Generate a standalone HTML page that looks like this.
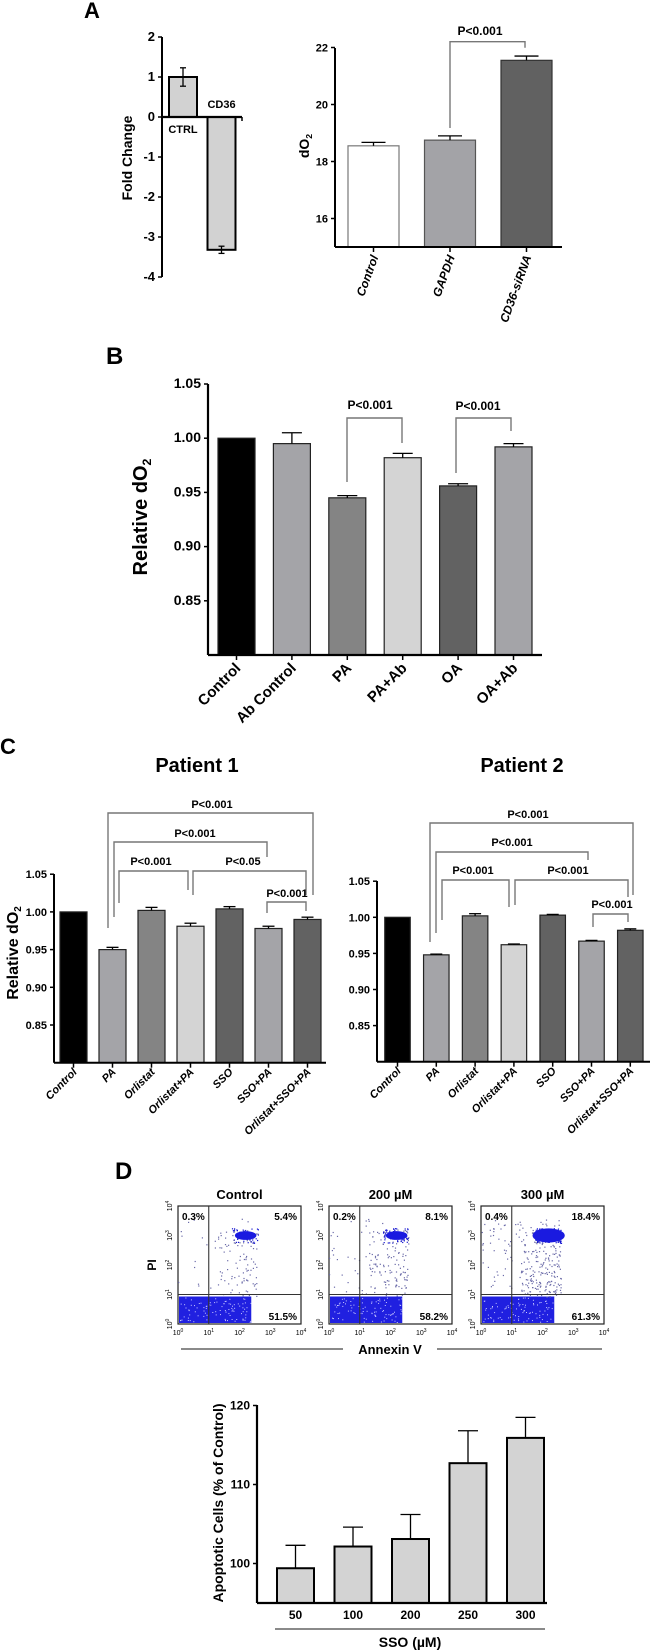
<!DOCTYPE html>
<html><head><meta charset="utf-8"><style>
html,body{margin:0;padding:0;background:#fff;}
svg{display:block;font-family:"Liberation Sans",Arial,sans-serif;font-weight:bold;}
</style></head><body>
<svg id="fig" width="650" height="1650" viewBox="0 0 650 1650" xmlns="http://www.w3.org/2000/svg">
<text x="84" y="18" font-size="22">A</text>
<text x="106" y="364" font-size="24">B</text>
<text x="0" y="754" font-size="22">C</text>
<text x="115" y="1179" font-size="24">D</text>
<text x="197" y="772" font-size="20" text-anchor="middle">Patient 1</text>
<text x="522" y="772" font-size="20" text-anchor="middle">Patient 2</text>
</svg>
<script>
// ---- data arrays ----
const aLeftCats = ["CTRL","CD36"];
const aLeftVals = [1.0,-3.32];
const aLeftErr = [0.23,0.09];
const aLeftTicks = [2,1,0,-1,-2,-3,-4];

const aRightCats = ["Control","GAPDH","CD36-siRNA"];
const aRightVals = [18.55,18.75,21.55];
const aRightErr = [0.12,0.15,0.15];
const aRightTicks = [16,18,20,22];

const bCats = ["Control","Ab Control","PA","PA+Ab","OA","OA+Ab"];
const bVals = [1.0,0.995,0.945,0.982,0.956,0.992];
const bErr = [0,0.01,0.002,0.004,0.002,0.003];
const bTicks = ["0.85","0.90","0.95","1.00","1.05"];

const cCats = ["Control","PA","Orlistat","Orlistat+PA","SSO","SSO+PA","Orlistat+SSO+PA"];
const c1Vals = [1.0,0.950,1.002,0.981,1.004,0.978,0.990];
const c1Err = [0,0.003,0.004,0.004,0.003,0.003,0.003];
const c2Vals = [1.0,0.948,1.002,0.962,1.003,0.967,0.982];
const c2Err = [0,0.001,0.003,0.001,0.001,0.001,0.002];
const cTicks = ["0.85","0.90","0.95","1.00","1.05"];

const dCats = ["50","100","200","250","300"];
const dVals = [99.4,102.15,103.1,112.7,115.9];
const dErr = [2.9,2.45,3.1,4.1,2.6];
const dTicks = [100,110,120];

const flowTitles = ["Control","200 µM","300 µM"];
const flowUL = ["0.3%","0.2%","0.4%"];
const flowUR = ["5.4%","8.1%","18.4%"];
const flowLR = ["51.5%","58.2%","61.3%"];

// ---- helpers ----
const NS="http://www.w3.org/2000/svg";
const svg=document.getElementById('fig');
function mk(tag,attrs,txt){const e=document.createElementNS(NS,tag);for(const k in attrs)e.setAttribute(k,attrs[k]);if(txt!==undefined)e.textContent=txt;svg.appendChild(e);return e;}
function line(x1,y1,x2,y2,w,c){return mk('line',{x1:x1,y1:y1,x2:x2,y2:y2,stroke:c||'#000','stroke-width':w||1.5});}

function barChart(o){
  const ys=o.y;
  const ax=line(o.axX,o.top,o.axX,o.bottom,o.aw||2);
  
  
  o.ticks.forEach(t=>{
    const v=parseFloat(t);
    const tk=line(o.axX-4,ys(v),o.axX,ys(v),1.5);
    
    
    const tl=mk('text',{x:o.axX-7,y:ys(v)+4,'font-size':o.tfs||11,'text-anchor':'end'},String(t));
    
    
  });
  o.vals.forEach((v,i)=>{
    const cx=o.x0+i*o.step;
    const y0=ys(o.base),y1=ys(v);
    const r=mk('rect',{x:cx-o.bw/2,y:Math.min(y0,y1),width:o.bw,height:Math.abs(y1-y0),fill:o.fills[i],stroke:o.strokes?o.strokes[i]:'#222','stroke-width':o.sw||1.2});
    
    
    if(o.err[i]>0){
      const dir=v>=o.base?1:-1;
      const ye=ys(v+dir*o.err[i]);
      const e1=line(cx,y1,cx,ye,1.3);
      
      
      const e2=line(cx-o.cap,ye,cx+o.cap,ye,1.3);
      
      
      if(o.both){const yb=ys(v-dir*o.err[i]);line(cx,y1,cx,yb,1.3);line(cx-o.cap,yb,cx+o.cap,yb,1.3);}
    }
    if(o.xtick){
      const xt=line(cx,o.bottom,cx,o.bottom+5,1.5);
      
      
    }
    if(o.cats){
      const lx=cx+(o.lxo||3),ly=o.bottom+(o.lyo||12);
      const t=mk('text',{x:lx,y:ly,'font-size':o.lfs||11,'text-anchor':'end','font-style':o.italic?'italic':'normal',transform:'rotate('+(o.rot||-45)+' '+lx+' '+ly+')'},o.cats[i]);
      
      
    }
  });
  if(o.axRight){
    const bx=line(o.axX,o.bottom,o.axRight,o.bottom,o.aw||2);
    
    
  }
}
function bracket(x1,x2,top,yl,yr,label,ty,tx,fs){
  const p=mk('path',{d:'M'+x1+' '+yl+' L'+x1+' '+top+' L'+x2+' '+top+' L'+x2+' '+yr,fill:'none',stroke:'#777','stroke-width':1.4});
  
  
  const t=mk('text',{x:tx!==undefined?tx:(x1+x2)/2,y:ty,'font-size':fs||11,'text-anchor':'middle'},label);
  
  
}
function ylabel(x,y,txt,fs,sub){
  const t=mk('text',{x:x,y:y,'font-size':fs,'text-anchor':'middle',transform:'rotate(-90 '+x+' '+y+')'});
  
  
  t.textContent=txt;
  if(sub){const s=document.createElementNS(NS,'tspan');s.setAttribute('font-size',fs*0.62);s.setAttribute('dy',fs*0.2);s.textContent=sub;t.appendChild(s);}
}

// ---- Panel A left ----
const yAL=v=>117-v*40;
barChart({name:'fold-change',y:yAL,axX:162,top:37,bottom:277,ticks:aLeftTicks,vals:aLeftVals,err:aLeftErr,base:0,x0:183,step:38.5,bw:28,fills:['#d2d2d2','#d2d2d2'],strokes:['#000','#000'],sw:2,cap:3,both:true,tfs:13});
const zl=line(162,117,242,117,2.2);


line(242,117,242,121,1.5);
aLeftCats.forEach((c,i)=>{
  const t=mk('text',{x:183+i*38.5,y:i===0?133:108,'font-size':11,'text-anchor':'middle'},c);
  
  
});
ylabel(132,158,'Fold Change',14);

// ---- Panel A right ----
const yAR=v=>247-(v-15)*28.5;
barChart({name:'do2-sirna',y:yAR,axX:335,top:48,bottom:247,ticks:aRightTicks,vals:aRightVals,err:aRightErr,base:15,x0:373.5,step:76.5,bw:51,fills:['#ffffff','#a3a3a7','#616161'],strokes:['#777','#555','#333'],cap:12,cats:aRightCats,rot:-70,lxo:5,lyo:10,italic:true,lfs:12,xtick:true,axRight:562,tfs:11});
bracket(450,525,41.7,128,47.7,'P<0.001',35,480,12);
ylabel(309,146,'dO',14,'2');

// ---- Panel B ----
const yB=v=>655-(v-0.80)/0.05*54.2;
barChart({name:'panel-b',y:yB,axX:208,top:384,bottom:655,ticks:bTicks,vals:bVals,err:bErr,base:0.80,x0:236.5,step:55.4,bw:37,fills:['#000','#a4a4a8','#848484','#d4d4d4','#626262','#a4a4a8'],cap:10,cats:bCats,rot:-45,lxo:5,lyo:14,lfs:15,xtick:true,axRight:542,tfs:14,aw:2.2});
bracket(347,402,418,482,443,'P<0.001',409,370,12);
bracket(456,511,418,473,431,'P<0.001',410,478,12);
ylabel(147,517,'Relative dO',20,'2');

// ---- Panel C ----
const yC1=v=>1062.7-(v-0.8)/0.05*37.7;
barChart({name:'patient-1',y:yC1,axX:54,top:874,bottom:1062.7,ticks:cTicks,vals:c1Vals,err:c1Err,base:0.8,x0:73.5,step:39,bw:27,fills:['#000','#a4a4a8','#848484','#d4d4d4','#626262','#a4a4a8','#626262'],cap:6,cats:cCats,rot:-45,lxo:4,lyo:10,italic:true,lfs:11,xtick:true,axRight:326,tfs:11});
bracket(108,313,813,928,895,'P<0.001',808,212);
bracket(114,267,842,917,857,'P<0.001',837,195);
bracket(119,188,871,903,890,'P<0.001',865,151);
bracket(193,306,871,895,895,'P<0.05',865,243);
bracket(267,306,902,913,911,'P<0.001',897,287);
ylabel(18,953,'Relative dO',16,'2');

const yC2=v=>1061.7-(v-0.8)/0.05*36.1;
barChart({name:'patient-2',y:yC2,axX:377,top:881,bottom:1061.7,ticks:cTicks,vals:c2Vals,err:c2Err,base:0.8,x0:397.5,step:38.8,bw:25.5,fills:['#000','#a4a4a8','#848484','#d4d4d4','#626262','#a4a4a8','#626262'],cap:6,cats:cCats,rot:-45,lxo:4,lyo:10,italic:true,lfs:11,xtick:true,axRight:650,tfs:11});
bracket(430,633,823,942,895,'P<0.001',818,528);
bracket(436,588,852,933,860,'P<0.001',846,512);
bracket(442,509,880,920,907,'P<0.001',874,473);
bracket(515,628,880,905,897,'P<0.001',874,568);
bracket(593,628,914,927,922,'P<0.001',908,612);

// ---- Panel D flow plots ----
let seed=7;function rnd(){seed=(seed*16807)%2147483647;return (seed-1)/2147483646;}
const flowLeft=[178,329,481];
const flowDensity=[1,1.4,2.4];
flowLeft.forEach((L,k)=>{
  const T=1206,B=1324,W=123,dec=W/4,hdec=(B-T)/4;
  const t=mk('text',{x:L+W/2,y:1199,'font-size':13,'text-anchor':'middle'},flowTitles[k]);
  
  
  const box=mk('rect',{x:L,y:T,width:W,height:B-T,fill:'#fff',stroke:'#222','stroke-width':1.2});
  
  
  const dens=mk('rect',{x:L+1,y:B-hdec+2,width:dec*2.35,height:hdec-3,fill:'#2020e0'});
  
  
  const g=document.createElementNS(NS,'g');svg.appendChild(g);
  
  
  // white speckles in dense region
  for(let i=0;i<90;i++){
    const c=document.createElementNS(NS,'rect');
    c.setAttribute('x',(L+2+rnd()*dec*2.3).toFixed(1));c.setAttribute('y',(B-hdec+3+rnd()*(hdec-5)).toFixed(1));
    c.setAttribute('width',1);c.setAttribute('height',1);c.setAttribute('fill','#c8c8ff');
    g.appendChild(c);
  }
  const n=Math.round(160*flowDensity[k]);
  for(let i=0;i<n;i++){
    const c=document.createElementNS(NS,'rect');
    let x,y;
    if(i<n*0.3){x=L+dec*(1.75+rnd()*0.85);y=T+hdec*(0.75+rnd()*0.5);}
    else if(i<n*0.75){x=L+dec*(1.3+rnd()*1.3);y=T+hdec*(0.8+rnd()*2.3);}
    else {x=L+dec*(rnd()*2.6);y=T+hdec*(0.4+rnd()*2.6);}
    c.setAttribute('x',x.toFixed(1));c.setAttribute('y',y.toFixed(1));c.setAttribute('width',1.2);c.setAttribute('height',1.2);c.setAttribute('fill',i<n*0.3?'#1515d0':'#6a6aa8');
    g.appendChild(c);
  }
  const cl=mk('ellipse',{cx:L+dec*2.2,cy:T+hdec,rx:dec*0.35*(k===2?1.5:1),ry:hdec*0.15*(k===2?1.6:1),fill:'#1a1ae0'});
  
  
  const v=line(L+dec,T,L+dec,B,1.1,'#333');
  
  
  const h=line(L,B-hdec,L+W,B-hdec,1.1,'#333');
  
  
  for(let d=0;d<=4;d++){
    const xt=mk('text',{x:L+d*dec,y:B+11,'font-size':7,'text-anchor':'middle','font-weight':'normal'},'10');
    const s=document.createElementNS(NS,'tspan');s.setAttribute('dy',-3);s.setAttribute('font-size',5);s.textContent=String(d);xt.appendChild(s);
    
    
    const yx=L-6,yy=B-d*hdec;
    const yt=mk('text',{x:yx,y:yy,'font-size':7,'text-anchor':'middle','font-weight':'normal',transform:'rotate(-90 '+yx+' '+yy+')'},'10');
    const s2=document.createElementNS(NS,'tspan');s2.setAttribute('dy',-3);s2.setAttribute('font-size',5);s2.textContent=String(d);yt.appendChild(s2);
    
    
  }
  const a=mk('text',{x:L+4,y:T+14,'font-size':10},flowUL[k]);
  
  
  const b=mk('text',{x:L+W-4,y:T+14,'font-size':10,'text-anchor':'end'},flowUR[k]);
  
  
  const c=mk('text',{x:L+W-4,y:B-4,'font-size':10,'text-anchor':'end'},flowLR[k]);
  
  
});
ylabel(156,1265,'PI',12);
const an=mk('text',{x:390,y:1354,'font-size':13,'text-anchor':'middle'},'Annexin V');


line(181,1349,343,1349,1.3,'#444');
line(437,1349,602,1349,1.3,'#444');

// ---- Panel D bar chart ----
const yD=v=>1603-(v-95)*7.9;
barChart({name:'apoptotic',y:yD,axX:257,top:1405,bottom:1603,ticks:dTicks,vals:dVals,err:dErr,base:95,x0:295.5,step:57.5,bw:37,fills:['#d3d3d3','#d3d3d3','#d3d3d3','#d3d3d3','#d3d3d3'],strokes:['#000','#000','#000','#000','#000'],sw:2,cap:10,axRight:547,tfs:12,aw:2.2});
dCats.forEach((c,i)=>{
  const t=mk('text',{x:295.5+i*57.5,y:1619,'font-size':12,'text-anchor':'middle'},c);
  
  
});
line(275,1629,545,1629,1.3,'#444');
const ss=mk('text',{x:410,y:1647,'font-size':14,'text-anchor':'middle'},'SSO (µM)');


ylabel(223,1503,'Apoptotic Cells (% of Control)',14);
</script>
</body></html>
